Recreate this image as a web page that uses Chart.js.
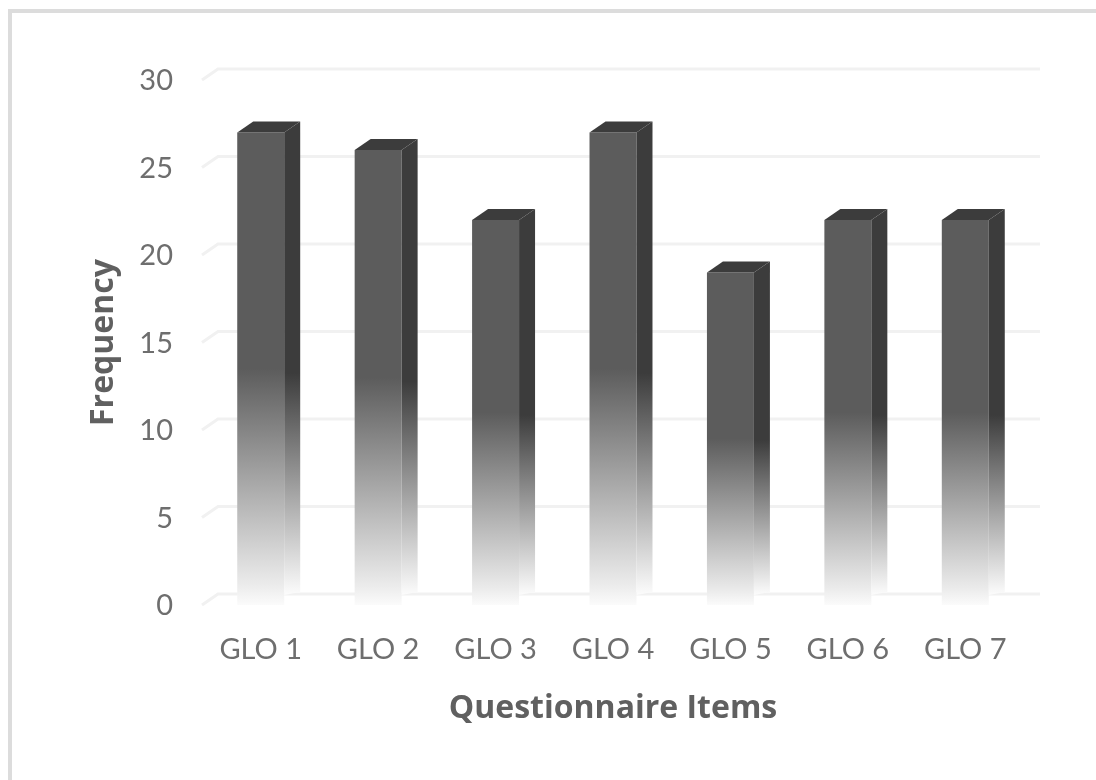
<!DOCTYPE html>
<html>
<head>
<meta charset="utf-8">
<script src="https://cdn.jsdelivr.net/npm/chart.js@4"></script>
<style>
    html, body { margin: 0; padding: 0; background: #ffffff; overflow: hidden; }
    #wrap { position: absolute; left: 0; top: 0; width: 1096px; height: 780px; }
    #frame { position: absolute; left: 8px; top: 9px; right: 0; bottom: 0; border-left: 4px solid #dcdcdc; border-top: 4px solid #dcdcdc; }
    canvas { position: absolute; left: 0; top: 0; }
</style>
</head>
<body>
<div id="wrap">
    <div id="frame"></div>
    <canvas id="gloChart" width="1096" height="780"></canvas>
</div>
<script>
const categories = ['GLO 1', 'GLO 2', 'GLO 3', 'GLO 4', 'GLO 5', 'GLO 6', 'GLO 7'];
const frequency = [27, 26, 22, 27, 19, 22, 22];
const tickLabels = [0, 5, 10, 15, 20, 25, 30];

const depthX = 16;
const depthY = 11;
const tickFont = 'Lato, sans-serif';
const titleFont = '"Open Sans", sans-serif';

// fades the front face from solid (upper half) to almost white at the floor
function frontGradient(ctx, top, base) {
    const g = ctx.createLinearGradient(0, top, 0, base);
    g.addColorStop(0, '#5c5c5c');
    g.addColorStop(0.5, '#5c5c5c');
    g.addColorStop(0.96, '#ececec');
    g.addColorStop(1, '#fbfbfb');
    return g;
}

// back wall lines plus the little diagonal going to the front plane
const wallPlugin = {
    id: 'wall',
    beforeDatasetsDraw(chart) {
        const { ctx, chartArea, scales } = chart;
        ctx.save();
        ctx.strokeStyle = '#f1f1f1';
        ctx.lineWidth = 3;
        tickLabels.forEach(v => {
            const y = scales.y.getPixelForValue(v);
            ctx.beginPath();
            ctx.moveTo(chartArea.left, y);
            ctx.lineTo(chartArea.left + depthX, y - depthY);
            ctx.lineTo(chartArea.right + depthX, y - depthY);
            ctx.stroke();
        });
        ctx.restore();
    }
};

// side and top faces of each bar, taken from the bar element position
const boxPlugin = {
    id: 'box',
    afterDatasetsDraw(chart) {
        const { ctx } = chart;
        ctx.save();
        chart.getDatasetMeta(0).data.forEach(bar => {
            const right = bar.x + bar.width / 2;
            const left = bar.x - bar.width / 2;
            const fade = ctx.createLinearGradient(0, bar.y, 0, bar.base - 10);
            fade.addColorStop(0, '#3c3c3c');
            fade.addColorStop(0.52, '#3c3c3c');
            fade.addColorStop(1, '#fcfcfc');
            ctx.fillStyle = fade;
            ctx.beginPath();
            ctx.moveTo(right, bar.y);
            ctx.lineTo(right + depthX, bar.y - depthY);
            ctx.lineTo(right + depthX, bar.base - depthY - 2);
            ctx.lineTo(right, bar.base - 10);
            ctx.closePath();
            ctx.fill();

            ctx.fillStyle = '#3c3c3c';
            ctx.beginPath();
            ctx.moveTo(left, bar.y);
            ctx.lineTo(left + depthX, bar.y - depthY);
            ctx.lineTo(right + depthX, bar.y - depthY);
            ctx.lineTo(right, bar.y);
            ctx.closePath();
            ctx.fill();
        });
        ctx.restore();
    }
};

new Chart(document.getElementById('gloChart'), {
    type: 'bar',
    data: {
        labels: categories,
        datasets: [{
            label: 'Frequency',
            data: frequency,
            barPercentage: 0.4,
            categoryPercentage: 1,
            backgroundColor(c) {
                const { ctx, scales } = c.chart;
                const top = scales.y ? scales.y.getPixelForValue(frequency[c.dataIndex]) : NaN;
                const base = scales.y ? scales.y.getPixelForValue(0) : NaN;
                if (!isFinite(top) || !isFinite(base)) return '#5c5c5c';
                return frontGradient(ctx, top, base);
            }
        }]
    },
    options: {
        responsive: false,
        animation: false,
        layout: { padding: { left: 82, right: 72, top: 80, bottom: 50 } },
        plugins: { legend: { display: false }, tooltip: { enabled: false } },
        scales: {
            x: {
                afterFit(axis) { axis.height = 125; },
                grid: { display: false },
                border: { display: false },
                ticks: { color: '#6e6e6e', font: { family: tickFont, size: 29 }, padding: 19, maxRotation: 0 },
                title: { display: true, text: 'Questionnaire Items', color: '#606060', font: { family: titleFont, size: 32, weight: 'bold' }, padding: { bottom: 2 } }
            },
            y: {
                min: 0,
                max: 30,
                afterFit(axis) { axis.width = 120; },
                afterBuildTicks(axis) { axis.ticks = tickLabels.map(v => ({ value: v })); },
                grid: { display: false },
                border: { display: false },
                ticks: { color: '#6e6e6e', font: { family: tickFont, size: 29 }, padding: 21, labelOffset: 1 },
                title: { display: true, text: 'Frequency', color: '#606060', font: { family: titleFont, size: 32, weight: 'bold' }, padding: { top: 3 } }
            }
        }
    },
    plugins: [wallPlugin, boxPlugin]
});
</script>
</body>
</html>
